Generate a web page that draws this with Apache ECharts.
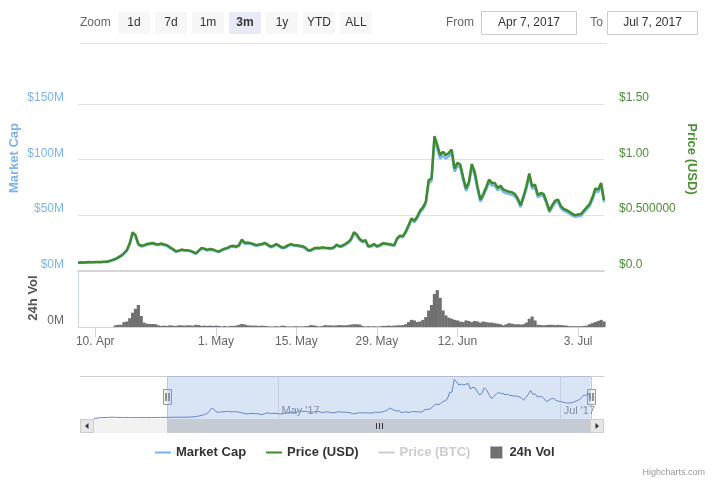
<!DOCTYPE html>
<html>
<head>
<meta charset="utf-8">
<script src="https://cdn.jsdelivr.net/npm/echarts@6/dist/echarts.min.js"></script>
<style>
html,body{margin:0;padding:0;background:#fff;}
#chart{width:711px;height:483px;}
</style>
</head>
<body>
<div id="chart"></div>
<script>
// ---------- DATA ----------
// 12-hour samples starting Apr 7, 2017 00:00 UTC
const SERIES_START = '2017-04-07T00:00:00Z';
const STEP_HOURS = 12;

// Market cap (USD millions)
const marketCap = [
  7.0,7.3,7.2,7.4,7.6,7.5,7.7,7.6,7.6,7.8,
  7.8,8.5,9.3,10.2,11.6,13.1,15.3,18.0,23.9,33.5,
  31.0,23.3,21.8,22.3,23.3,23.8,24.3,23.3,23.0,23.8,
  22.8,22.3,20.4,18.9,17.0,17.5,18.4,17.9,17.9,17.5,
  16.5,15.1,17.5,19.9,19.2,18.2,18.9,18.4,17.5,16.7,
  18.2,19.2,19.9,21.3,21.7,21.0,22.3,27.2,24.3,24.5,
  24.1,23.3,22.3,22.8,23.3,24.3,22.8,21.1,21.8,23.3,
  21.8,20.2,20.6,22.1,23.3,22.5,22.3,21.8,21.3,20.4,
  17.9,17.9,19.4,20.1,19.9,20.4,20.1,19.9,19.6,20.4,
  22.8,21.3,21.8,23.3,25.0,27.6,33.5,31.5,27.6,25.7,
  26.7,21.3,21.8,23.3,21.3,22.3,23.9,23.7,23.3,22.8,
  22.3,28.1,30.6,30.1,34.0,39.8,45.6,43.7,47.0,52.4,
  55.3,60.1,79.1,80.5,117.4,109.6,100.9,103.8,100.9,102.8,
  105.7,89.2,94.1,92.6,81.5,71.8,77.6,93.1,86.3,73.2,
  62.1,66.9,72.8,79.5,76.6,76.6,72.3,74.2,70.8,69.8,
  68.9,68.4,66.9,63.1,57.2,65.0,73.7,84.9,73.7,75.2,
  66.0,67.9,66.9,60.1,52.4,57.2,61.1,62.1,56.3,53.8,
  52.9,51.4,49.5,48.5,49.0,49.5,52.4,55.3,58.2,64.0,
  71.8,70.8,76.6,61.6
];

// Price (USD)
const priceUSD = [
  0.072,0.075,0.074,0.076,0.078,0.077,0.079,0.078,0.078,0.080,
  0.080,0.088,0.096,0.105,0.120,0.135,0.158,0.186,0.246,0.345,
  0.320,0.240,0.225,0.230,0.240,0.245,0.250,0.240,0.237,0.245,
  0.235,0.230,0.210,0.195,0.175,0.180,0.190,0.185,0.185,0.180,
  0.170,0.156,0.180,0.205,0.198,0.188,0.195,0.190,0.180,0.172,
  0.188,0.198,0.205,0.220,0.224,0.216,0.230,0.280,0.250,0.253,
  0.248,0.240,0.230,0.235,0.240,0.250,0.235,0.218,0.225,0.240,
  0.225,0.208,0.212,0.228,0.240,0.232,0.230,0.225,0.220,0.210,
  0.185,0.185,0.200,0.207,0.205,0.210,0.207,0.205,0.202,0.210,
  0.235,0.220,0.225,0.240,0.258,0.285,0.345,0.325,0.285,0.265,
  0.275,0.220,0.225,0.240,0.220,0.230,0.246,0.244,0.240,0.235,
  0.230,0.290,0.315,0.310,0.350,0.410,0.470,0.450,0.485,0.540,
  0.570,0.620,0.815,0.830,1.210,1.130,1.040,1.070,1.040,1.060,
  1.090,0.920,0.970,0.955,0.840,0.740,0.800,0.960,0.890,0.755,
  0.640,0.690,0.750,0.820,0.790,0.790,0.745,0.765,0.730,0.720,
  0.710,0.705,0.690,0.650,0.590,0.670,0.760,0.875,0.760,0.775,
  0.680,0.700,0.690,0.620,0.540,0.590,0.630,0.640,0.580,0.555,
  0.545,0.530,0.510,0.500,0.505,0.510,0.540,0.570,0.600,0.660,
  0.740,0.730,0.790,0.635
];

// 24h volume (USD millions)
const volume24h = [
  0,0,0,0,0,0,0,0,0,0,
  0,0,0,0.3,0.4,0.4,0.9,1.0,1.6,2.6,
  3.3,4.0,2.0,0.8,0.6,0.55,0.55,0.5,0.3,0.2,
  0.25,0.2,0.3,0.25,0.2,0.3,0.3,0.25,0.3,0.3,
  0.25,0.4,0.35,0.2,0.25,0.2,0.25,0.2,0.25,0.2,
  0.1,0.2,0.1,0.2,0.2,0.25,0.4,0.55,0.45,0.3,
  0.25,0.25,0.25,0.2,0.25,0.2,0.15,0.1,0.1,0.15,
  0.1,0.25,0.2,0.1,0.1,0.1,0.15,0.1,0.1,0.15,
  0.2,0.35,0.3,0.2,0.1,0.2,0.35,0.3,0.3,0.25,
  0.3,0.35,0.3,0.3,0.35,0.45,0.5,0.5,0.45,0.2,
  0.1,0.15,0.1,0.15,0.1,0.1,0.2,0.2,0.25,0.2,
  0.25,0.3,0.3,0.35,0.5,0.9,1.3,1.2,0.9,1.0,
  1.3,1.8,3.0,4.0,6.0,6.7,5.3,3.0,2.1,1.7,
  1.5,1.3,1.2,1.0,0.9,1.2,1.1,0.9,1.1,1.0,
  0.8,1.0,0.9,0.8,0.8,0.7,0.6,0.5,0.3,0.5,
  0.7,0.6,0.5,0.5,0.45,0.5,0.8,1.5,1.9,1.2,
  0.4,0.35,0.3,0.35,0.4,0.4,0.35,0.4,0.35,0.3,
  0.25,0.15,0.15,0.15,0.15,0.15,0.2,0.25,0.5,0.7,
  0.9,1.1,1.3,1.0
];

// Navigator-only history before the selected range (market cap, USD millions), 12h samples from Mar 22
const PRE_START = '2017-03-22T00:00:00Z';
const preMarketCap = [
  2.5,4.5,5.5,6.0,6.3,6.5,6.8,7.2,7.5,7.2,
  7.0,6.8,6.6,6.5,6.5,6.4,6.5,6.3,6.4,6.2,
  6.3,6.4,6.3,6.5,6.4,6.6,6.5,6.7,6.8,6.9,
  6.9,7.0
];

// Axis ticks and labels
const mcapTickValues = [0, 50, 100, 150];
const mcapTickLabels = ['$0M', '$50M', '$100M', '$150M'];
const priceTickValues = [0, 0.5, 1.0, 1.5];
const priceTickLabels = ['$0.0', '$0.500000', '$1.00', '$1.50'];
const volTickValues = [0];
const volTickLabels = ['0M'];
const dateTickValues = ['2017-04-10', '2017-05-01', '2017-05-15', '2017-05-29', '2017-06-12', '2017-07-03'];
const dateTickLabels = ['10. Apr', '1. May', '15. May', '29. May', '12. Jun', '3. Jul'];
const navTickValues = ['2017-05-01', '2017-07-01'];
const navTickLabels = ["May '17", "Jul '17"];
const legendNames = ['Market Cap', 'Price (USD)', 'Price (BTC)', '24h Vol'];
const zoomButtons = ['1d', '7d', '1m', '3m', '1y', 'YTD', 'ALL'];
const selectedButton = '3m';
const rangeFrom = 'Apr 7, 2017';
const rangeTo = 'Jul 7, 2017';

// ---------- BUILD ----------
const H = 3600 * 1000;
const t0 = Date.parse(SERIES_START);
const tPre = Date.parse(PRE_START);
const ts = i => t0 + i * STEP_HOURS * H;
const toUTC = s => Date.parse(s + 'T00:00:00Z');

const mcapData = marketCap.map((v, i) => [ts(i), v]);
const priceData = priceUSD.map((v, i) => [ts(i), v]);
const volData = volume24h.map((v, i) => [ts(i), v]);
const navData = preMarketCap.map((v, i) => [tPre + i * STEP_HOURS * H, v]).concat(mcapData);

const MAIN_MIN = t0;
const MAIN_MAX = ts(marketCap.length - 1);
const NAV_MIN = Date.UTC(2017, 2, 19, 2);
const NAV_MAX = Date.UTC(2017, 6, 10, 9);
const dateTicks = dateTickValues.map(toUTC);
const navTicks = navTickValues.map(toUTC);

const FONT = "'Liberation Sans', Arial, Helvetica, sans-serif";
const GREEN = '#3d8b2f';
const GREEN_TXT = '#4a8f34';
const BLUE = '#7cb5ec';
const LINE_ICON = 'path://M0,0h16v2h-16z';

function lookup(values, labels, v) {
  for (let i = 0; i < values.length; i++) {
    if (Math.abs(values[i] - v) < 1e-6 * Math.max(1, Math.abs(values[i]))) return labels[i];
  }
  return '';
}

const option = {
  animation: false,
  textStyle: { fontFamily: FONT },
  grid: [
    { left: 78, right: 107, top: 104, height: 166.7 },
    { left: 78, right: 107, top: 272, height: 55 },
    { left: 80, right: 107, top: 376, height: 43 }
  ],
  xAxis: [
    {
      type: 'value', gridIndex: 0, min: MAIN_MIN, max: MAIN_MAX,
      axisLine: { show: true, onZero: false, lineStyle: { color: '#d6d6d6', width: 2 } },
      axisTick: { show: false }, axisLabel: { show: false }, splitLine: { show: false }
    },
    {
      type: 'value', gridIndex: 1, min: MAIN_MIN, max: MAIN_MAX,
      axisLine: { show: true, onZero: false, lineStyle: { color: '#ccd6eb', width: 1 } },
      axisTick: { show: true, length: 10, lineStyle: { color: '#ccd6eb' }, customValues: dateTicks },
      axisLabel: {
        customValues: dateTicks, color: '#666', fontSize: 12, margin: 9, fontFamily: FONT,
        formatter: v => lookup(dateTicks, dateTickLabels, v)
      },
      splitLine: { show: false }
    },
    {
      type: 'value', gridIndex: 2, position: 'top', min: NAV_MIN, max: NAV_MAX,
      axisLine: { show: false, onZero: false },
      axisTick: { show: false, customValues: navTicks },
      axisLabel: {
        customValues: navTicks, inside: true, margin: 29, align: 'left', padding: [0, 0, 0, 3],
        color: '#888', fontSize: 11, fontFamily: FONT,
        formatter: v => lookup(navTicks, navTickLabels, v)
      },
      splitLine: { show: true, lineStyle: { color: '#e3e3e3' } }
    }
  ],
  yAxis: [
    {
      type: 'value', gridIndex: 0, position: 'left', min: 0, max: 150, interval: 50,
      axisLine: { show: false }, axisTick: { show: false },
      axisLabel: {
        color: BLUE, fontSize: 12, margin: 14, verticalAlign: 'bottom', lineHeight: 12, fontFamily: FONT,
        formatter: v => lookup(mcapTickValues, mcapTickLabels, v)
      },
      splitLine: { show: true, lineStyle: { color: '#e2e2e2' } }
    },
    {
      type: 'value', gridIndex: 0, position: 'right', min: 0, max: 1.5, interval: 0.5,
      axisLine: { show: false }, axisTick: { show: false },
      axisLabel: {
        color: GREEN_TXT, fontSize: 12, margin: 15, verticalAlign: 'bottom', lineHeight: 12, fontFamily: FONT,
        formatter: v => lookup(priceTickValues, priceTickLabels, v)
      },
      splitLine: { show: false }
    },
    {
      type: 'value', gridIndex: 1, position: 'left', min: 0, max: 10,
      axisLine: { show: true, onZero: false, lineStyle: { color: '#ccd6eb' } }, axisTick: { show: false },
      axisLabel: {
        customValues: volTickValues, color: '#666', fontSize: 12, margin: 14, verticalAlign: 'bottom', lineHeight: 12,
        fontFamily: FONT, formatter: v => lookup(volTickValues, volTickLabels, v)
      },
      splitLine: { show: false }
    },
    { type: 'value', gridIndex: 2, min: 2.3, max: 127, show: false }
  ],
  legend: {
    left: 155, top: 446, padding: 0, itemGap: 20, itemWidth: 16, itemHeight: 12,
    symbolKeepAspect: true,
    textStyle: { fontSize: 13, fontWeight: 'bold', color: '#333', fontFamily: FONT },
    inactiveColor: '#cccccc',
    data: [
      { name: legendNames[0], icon: LINE_ICON },
      { name: legendNames[1], icon: LINE_ICON },
      { name: legendNames[2], icon: LINE_ICON },
      { name: legendNames[3], icon: 'path://M0,0h13v13h-13z' }
    ],
    selected: { 'Price (BTC)': false }
  },
  series: [
    {
      name: legendNames[0], type: 'line', xAxisIndex: 0, yAxisIndex: 0, data: mcapData,
      showSymbol: false, symbol: 'none', color: BLUE, lineStyle: { width: 2.5, color: BLUE }, z: 2, silent: true
    },
    {
      name: legendNames[1], type: 'line', xAxisIndex: 0, yAxisIndex: 1, data: priceData,
      showSymbol: false, symbol: 'none', color: GREEN, lineStyle: { width: 2.5, color: GREEN }, z: 3, silent: true
    },
    {
      name: legendNames[2], type: 'line', xAxisIndex: 0, yAxisIndex: 1, data: [],
      showSymbol: false, symbol: 'none', color: '#bbbbbb', lineStyle: { width: 2 }, silent: true
    },
    {
      name: legendNames[3], type: 'bar', xAxisIndex: 1, yAxisIndex: 2, data: volData,
      barWidth: 3.2, color: '#707070', itemStyle: { color: '#707070' }, silent: true
    },
    {
      name: 'navigator', type: 'line', xAxisIndex: 2, yAxisIndex: 3, data: navData,
      showSymbol: false, symbol: 'none', lineStyle: { width: 1, color: '#6685c2' }, color: '#6685c2', silent: true,
      markArea: {
        silent: true,
        itemStyle: { color: 'rgba(120,160,220,0.28)' },
        data: [[{ xAxis: MAIN_MIN }, { xAxis: MAIN_MAX }]]
      }
    }
  ]
};

const chart = echarts.init(document.getElementById('chart'), null, { renderer: 'canvas' });
chart.setOption(option);

// ---------- UI decorations (range selector, navigator handles, scrollbar) ----------
const xL = chart.convertToPixel({ xAxisIndex: 2 }, MAIN_MIN);
const xR = chart.convertToPixel({ xAxisIndex: 2 }, MAIN_MAX);
const navLeft = 80, navRight = 604, navTop = 376, navBottom = 419, sbH = 14;

const g = [];
function txt(x, y, text, font, fill, align, vAlign, rot) {
  g.push({ type: 'text', x: x, y: y, rotation: rot || 0, silent: true,
    style: { text: text, font: font, fill: fill, align: align || 'left', verticalAlign: vAlign || 'middle' } });
}
function rect(x, y, w, h, fill, stroke) {
  g.push({ type: 'rect', silent: true, shape: { x: x, y: y, width: w, height: h },
    style: { fill: fill, stroke: stroke || null, lineWidth: stroke ? 1 : 0 } });
}
function line(x1, y1, x2, y2, stroke, w) {
  g.push({ type: 'line', silent: true, shape: { x1: x1, y1: y1, x2: x2, y2: y2 }, style: { stroke: stroke, lineWidth: w || 1 } });
}

// range selector
txt(80, 23, 'Zoom', '12px ' + FONT, '#666');
zoomButtons.forEach((b, i) => {
  const bx = 118 + 37 * i;
  const sel = b === selectedButton;
  rect(bx, 12, 32, 22, sel ? '#e6ebf5' : '#f7f7f7');
  txt(bx + 16, 23, b, (sel ? 'bold ' : '') + '12px ' + FONT, '#333', 'center');
});
txt(474, 23, 'From', '12px ' + FONT, '#666', 'right');
rect(481.5, 11.5, 95, 23, '#fff', '#cccccc');
txt(529, 23, rangeFrom, '12px ' + FONT, '#333', 'center');
txt(603, 23, 'To', '12px ' + FONT, '#666', 'right');
rect(607.5, 11.5, 90, 23, '#fff', '#cccccc');
txt(652.5, 23, rangeTo, '12px ' + FONT, '#333', 'center');
line(80, 43.5, 607, 43.5, '#e0e0e0', 1);

// axis titles
txt(14, 158, 'Market Cap', 'bold 13px ' + FONT, BLUE, 'center', 'middle', Math.PI / 2);
txt(692, 159, 'Price (USD)', 'bold 13px ' + FONT, GREEN_TXT, 'center', 'middle', -Math.PI / 2);
txt(33, 298, '24h Vol', 'bold 13px ' + FONT, '#555', 'center', 'middle', Math.PI / 2);

// navigator outline
line(navLeft, navTop + 0.5, navRight, navTop + 0.5, '#cccccc', 1);
line(Math.round(xL) + 0.5, navTop, Math.round(xL) + 0.5, navBottom, '#cccccc', 1);
line(Math.round(xR) + 0.5, navTop, Math.round(xR) + 0.5, navBottom, '#cccccc', 1);

// scrollbar
rect(navLeft, navBottom, navRight - navLeft, sbH, '#f2f2f2');
rect(Math.round(xL) + 0.5, navBottom + 0.5, Math.round(xR) - Math.round(xL), sbH - 1, '#c4cbd3', '#c4cbd3');
const mid = Math.round((xL + xR) / 2) + 0.5;
[-3, 0, 3].forEach(d => line(mid + d, navBottom + 4, mid + d, navBottom + 10, '#333', 1));
rect(navLeft + 0.5, navBottom + 0.5, 13, sbH - 1, '#e6e6e6', '#cccccc');
rect(navRight - 13.5, navBottom + 0.5, 13, sbH - 1, '#e6e6e6', '#cccccc');
g.push({ type: 'polygon', silent: true, shape: { points: [[navLeft + 8.5, navBottom + 4], [navLeft + 8.5, navBottom + 10], [navLeft + 5, navBottom + 7]] }, style: { fill: '#333' } });
g.push({ type: 'polygon', silent: true, shape: { points: [[navRight - 8.5, navBottom + 4], [navRight - 8.5, navBottom + 10], [navRight - 5, navBottom + 7]] }, style: { fill: '#333' } });

// handles
[xL, xR].forEach(x => {
  const hx = Math.round(x) + 0.5;
  rect(hx - 4, 389.5, 8, 15, '#f2f2f2', '#999999');
  line(hx - 1.5, 393, hx - 1.5, 401, '#333', 1);
  line(hx + 1.5, 393, hx + 1.5, 401, '#333', 1);
});

// credits
txt(705, 473, 'Highcharts.com', '9px ' + FONT, '#999', 'right');

chart.setOption({ graphic: g });
</script>
</body>
</html>
